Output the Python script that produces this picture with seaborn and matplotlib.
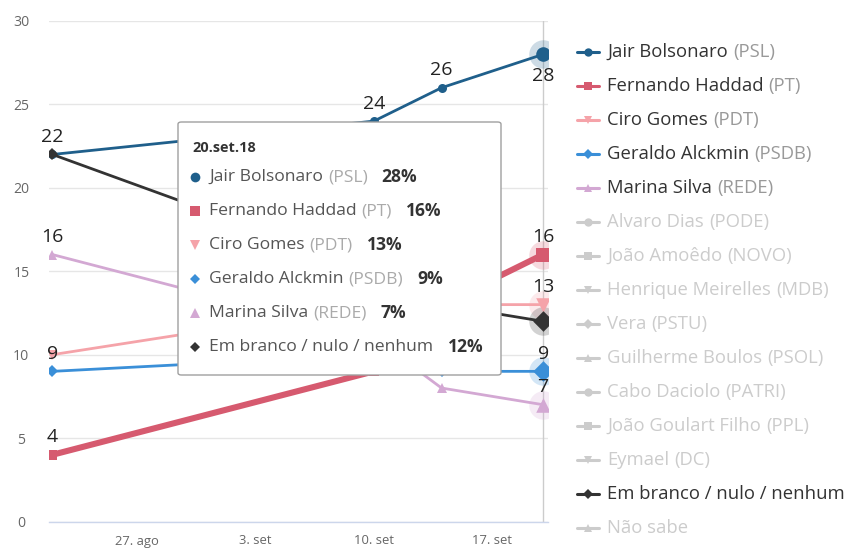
import numpy as np
import pandas as pd
import matplotlib
matplotlib.use("Agg")
import matplotlib.pyplot as plt
import seaborn as sns
from matplotlib.lines import Line2D
from matplotlib.patches import FancyBboxPatch

# data
dates = ["2018-08-22", "2018-09-10", "2018-09-14", "2018-09-20"]
bolsonaro = [22, 24, 26, 28]
haddad = [4, 9, 13, 16]
ciro = [10, 13, 13, 13]
alckmin = [9, 10, 9, 9]
marina = [16, 11, 8, 7]
branco = [22, 15, 13, 12]

names = ["Jair Bolsonaro", "Fernando Haddad", "Ciro Gomes", "Geraldo Alckmin",
         "Marina Silva", "Em branco / nulo / nenhum"]
parties = ["(PSL)", "(PT)", "(PDT)", "(PSDB)", "(REDE)", ""]
values = [bolsonaro, haddad, ciro, alckmin, marina, branco]
colors = ["#1f5f8b", "#d65a6f", "#f5a3a9", "#3a8fd8", "#d3a8d3", "#333333"]
markers = ["o", "s", "v", "D", "^", "D"]

# which point labels are visible (others hidden by the tooltip / overlap)
shown_labels = [[0, 1, 2, 3], [0, 3], [3], [0, 3], [0, 3], []]

legend_names = ["Jair Bolsonaro", "Fernando Haddad", "Ciro Gomes", "Geraldo Alckmin",
                "Marina Silva", "Alvaro Dias", "João Amoêdo", "Henrique Meirelles",
                "Vera", "Guilherme Boulos", "Cabo Daciolo", "João Goulart Filho",
                "Eymael", "Em branco / nulo / nenhum", "Não sabe"]
legend_parties = ["(PSL)", "(PT)", "(PDT)", "(PSDB)", "(REDE)", "(PODE)", "(NOVO)",
                  "(MDB)", "(PSTU)", "(PSOL)", "(PATRI)", "(PPL)", "(DC)", "", ""]
legend_active = [True, True, True, True, True, False, False, False, False, False,
                 False, False, False, True, False]

tick_dates = ["2018-08-27", "2018-09-03", "2018-09-10", "2018-09-17"]
tick_labels = ["27. ago", "3. set", "10. set", "17. set"]

tooltip_title = "20.set.18"

W, H = 851, 552
FONT = "Open Sans"


def fx(x):
    return x / W


def fy(y):
    return 1 - y / H


def pt(px):
    return px * 0.72


sns.set_theme(style="white")
plt.rcParams["font.family"] = [FONT, "DejaVu Sans"]

fig = plt.figure(figsize=(W / 100, H / 100), dpi=100)
ax = fig.add_axes([fx(49.3), fy(521.5), fx(548) - fx(49.3), fy(21) - fy(521.5)])

rows = []
for n, v in zip(names, values):
    for d, val in zip(dates, v):
        rows.append({"date": pd.Timestamp(d), "name": n, "value": val})
df = pd.DataFrame(rows)

for i, n in enumerate(names):
    sub = df[df["name"] == n]
    lw = 4.4 if i == 1 else 2.0
    ms = 7.5 if i == 1 else 6.5
    sns.lineplot(data=sub, x="date", y="value", ax=ax, color=colors[i],
                 marker=markers[i], markersize=ms, markeredgewidth=0,
                 linewidth=lw, zorder=3 + (1 if i == 1 else 0), legend=False)
    # hover halo + enlarged last marker
    last = sub.iloc[-1]
    ax.scatter([last["date"]], [last["value"]], s=420, color=colors[i], alpha=0.22,
               linewidths=0, zorder=2)
    ax.scatter([last["date"]], [last["value"]], s=110, color=colors[i],
               marker=markers[i], linewidths=0, zorder=6)
    for j in shown_labels[i]:
        below = (i == 0 and j == 3)
        ax.annotate(str(sub.iloc[j]["value"]), (sub.iloc[j]["date"], sub.iloc[j]["value"]),
                    xytext=(0, -9 if below else 6), textcoords="offset points",
                    ha="center", va="top" if below else "bottom",
                    fontsize=pt(19.5), color="#222222", zorder=7)

ax.set_ylim(0, 30)
ax.set_yticks([0, 5, 10, 15, 20, 25, 30])
ax.set_xlim(pd.Timestamp("2018-08-22") - pd.Timedelta(hours=4.5),
            pd.Timestamp("2018-09-20") + pd.Timedelta(hours=7))
ax.set_xticks([pd.Timestamp(d) for d in tick_dates])
ax.set_xticklabels(tick_labels)
ax.set_xlabel("")
ax.set_ylabel("")
ax.grid(axis="y", color="#e6e6e6", linewidth=1)
ax.set_axisbelow(True)
for s in ["top", "right", "left"]:
    ax.spines[s].set_visible(False)
ax.spines["bottom"].set_color("#ccd6eb")
ax.spines["bottom"].set_linewidth(1)
ax.tick_params(axis="x", colors="#ccd6eb", length=pt(11), width=1, direction="out",
               pad=pt(2), labelcolor="#666666", labelsize=pt(13))
ax.tick_params(axis="y", length=0, pad=pt(28), labelcolor="#666666", labelsize=pt(14))
for lab in ax.get_yticklabels():
    lab.set_horizontalalignment("center")

# crosshair at hovered date
ax.axvline(pd.Timestamp(dates[-1]), color="#cccccc", linewidth=1, zorder=1)

renderer = fig.canvas.get_renderer()


def pieces(x, y, parts, size, zorder=20):
    # draw a row of text segments one after another
    for txt, col, weight, gap in parts:
        if not txt:
            continue
        t = fig.text(fx(x), fy(y), txt, color=col, fontsize=pt(size), fontweight=weight,
                     va="center", ha="left", zorder=zorder)
        bb = t.get_window_extent(renderer)
        x = bb.x1 + gap
    return x


# tooltip
box = FancyBboxPatch((fx(178), fy(375)), fx(501) - fx(178), fy(122) - fy(375),
                     boxstyle="round,pad=0,rounding_size=0.004", transform=fig.transFigure,
                     facecolor="white", edgecolor="#a0a0a0", linewidth=1, zorder=15)
fig.patches.append(box)
fig.text(fx(192), fy(148), tooltip_title, fontsize=pt(14.5), fontweight="bold",
         color="#333333", va="center", ha="left", zorder=20)
for i, n in enumerate(names):
    y = 177 + i * 34
    fig.add_artist(Line2D([fx(195)], [fy(y)], marker=markers[i], color=colors[i],
                          markersize=7 if markers[i] != "D" else 5.5, linewidth=0,
                          markeredgewidth=0, transform=fig.transFigure, zorder=20))
    pct = "%d%%" % values[i][-1]
    pieces(209, y, [(n, "#555555", "normal", 5), (parties[i], "#aaaaaa", "normal", 14),
                    (pct, "#333333", "bold", 0)] if parties[i] else
           [(n, "#555555", "normal", 15), (pct, "#333333", "bold", 0)], 17.5)

# legend
leg_markers = ["o", "s", "v", "D", "^"]
for k, n in enumerate(legend_names):
    y = 52 + k * 34
    m = leg_markers[k % 5] if k != 13 else "D"
    if legend_active[k]:
        idx = names.index(n)
        col = colors[idx]
        m = markers[idx]
        tcol, pcol = "#333333", "#999999"
    else:
        col = "#cccccc"
        tcol, pcol = "#cccccc", "#cccccc"
    fig.add_artist(Line2D([fx(577), fx(599)], [fy(y), fy(y)], color=col, linewidth=2.2,
                          transform=fig.transFigure))
    fig.add_artist(Line2D([fx(588)], [fy(y)], marker=m, color=col,
                          markersize=6 if m != "D" else 5, linewidth=0, markeredgewidth=0,
                          transform=fig.transFigure))
    pieces(607, y, [(n, tcol, "normal", 5), (legend_parties[k], pcol, "normal", 0)], 18.5)

fig.savefig("out.png", dpi=100)
